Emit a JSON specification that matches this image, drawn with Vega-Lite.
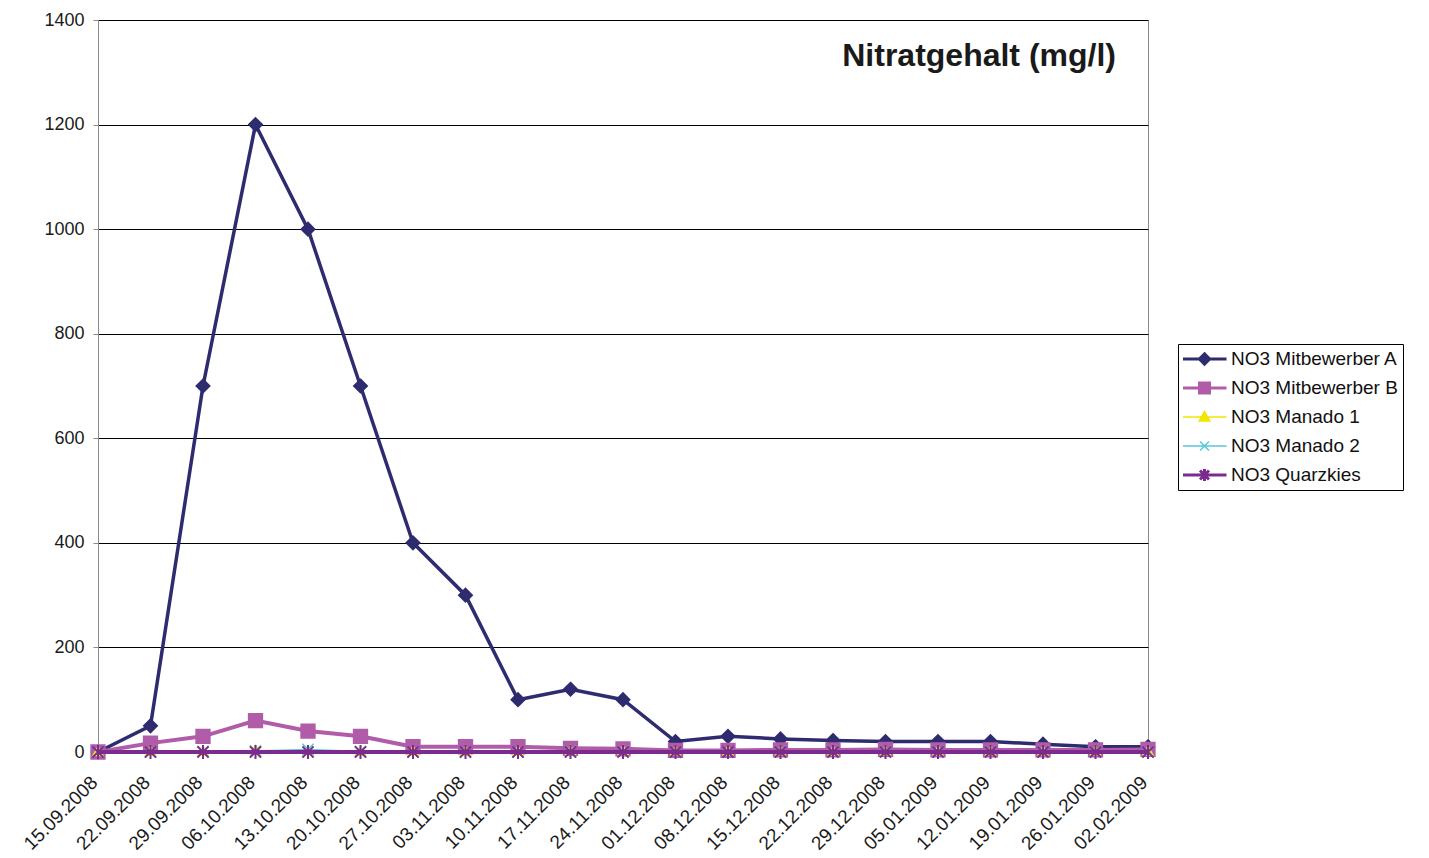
{
  "$schema": "https://vega.github.io/schema/vega-lite/v6.json",
  "width": 1050,
  "height": 732,
  "autosize": {"type": "none"},
  "padding": {"left": 98, "top": 20, "right": 281, "bottom": 106},
  "background": "white",
  "config": {
    "view": {"stroke": "#8a8a8a", "strokeWidth": 1},
    "font": "Liberation Sans"
  },
  "title": {
    "text": "Nitratgehalt (mg/l)",
    "anchor": "end",
    "frame": "group",
    "orient": "top",
    "offset": -87,
    "dx": -32,
    "fontSize": 32,
    "fontWeight": "bold",
    "font": "Liberation Sans",
    "color": "#1a1a1a",
    "baseline": "alphabetic"
  },
  "data": {
    "values": [
      {"Datum": "15.09.2008", "NO3 Mitbewerber A": 0, "NO3 Mitbewerber B": 0, "NO3 Manado 1": 0, "NO3 Manado 2": 0, "NO3 Quarzkies": 0},
      {"Datum": "22.09.2008", "NO3 Mitbewerber A": 50, "NO3 Mitbewerber B": 17, "NO3 Manado 1": 1, "NO3 Manado 2": 0, "NO3 Quarzkies": 0},
      {"Datum": "29.09.2008", "NO3 Mitbewerber A": 700, "NO3 Mitbewerber B": 30, "NO3 Manado 1": 1, "NO3 Manado 2": 1, "NO3 Quarzkies": 0},
      {"Datum": "06.10.2008", "NO3 Mitbewerber A": 1200, "NO3 Mitbewerber B": 60, "NO3 Manado 1": 3, "NO3 Manado 2": 2, "NO3 Quarzkies": 0},
      {"Datum": "13.10.2008", "NO3 Mitbewerber A": 1000, "NO3 Mitbewerber B": 40, "NO3 Manado 1": 2, "NO3 Manado 2": 5, "NO3 Quarzkies": 0},
      {"Datum": "20.10.2008", "NO3 Mitbewerber A": 700, "NO3 Mitbewerber B": 30, "NO3 Manado 1": 1, "NO3 Manado 2": 1, "NO3 Quarzkies": 0},
      {"Datum": "27.10.2008", "NO3 Mitbewerber A": 400, "NO3 Mitbewerber B": 10, "NO3 Manado 1": 1, "NO3 Manado 2": 0, "NO3 Quarzkies": 0},
      {"Datum": "03.11.2008", "NO3 Mitbewerber A": 300, "NO3 Mitbewerber B": 10, "NO3 Manado 1": 1, "NO3 Manado 2": 0, "NO3 Quarzkies": 0},
      {"Datum": "10.11.2008", "NO3 Mitbewerber A": 100, "NO3 Mitbewerber B": 10, "NO3 Manado 1": 1, "NO3 Manado 2": 0, "NO3 Quarzkies": 0},
      {"Datum": "17.11.2008", "NO3 Mitbewerber A": 120, "NO3 Mitbewerber B": 7, "NO3 Manado 1": 2, "NO3 Manado 2": 1, "NO3 Quarzkies": 0},
      {"Datum": "24.11.2008", "NO3 Mitbewerber A": 100, "NO3 Mitbewerber B": 6, "NO3 Manado 1": 2, "NO3 Manado 2": 1, "NO3 Quarzkies": 0},
      {"Datum": "01.12.2008", "NO3 Mitbewerber A": 20, "NO3 Mitbewerber B": 3, "NO3 Manado 1": 1, "NO3 Manado 2": 0, "NO3 Quarzkies": 0},
      {"Datum": "08.12.2008", "NO3 Mitbewerber A": 30, "NO3 Mitbewerber B": 3, "NO3 Manado 1": 1, "NO3 Manado 2": 0, "NO3 Quarzkies": 0},
      {"Datum": "15.12.2008", "NO3 Mitbewerber A": 25, "NO3 Mitbewerber B": 4, "NO3 Manado 1": 1, "NO3 Manado 2": 1, "NO3 Quarzkies": 0},
      {"Datum": "22.12.2008", "NO3 Mitbewerber A": 22, "NO3 Mitbewerber B": 4, "NO3 Manado 1": 1, "NO3 Manado 2": 1, "NO3 Quarzkies": 0},
      {"Datum": "29.12.2008", "NO3 Mitbewerber A": 20, "NO3 Mitbewerber B": 5, "NO3 Manado 1": 1, "NO3 Manado 2": 1, "NO3 Quarzkies": 0},
      {"Datum": "05.01.2009", "NO3 Mitbewerber A": 20, "NO3 Mitbewerber B": 4, "NO3 Manado 1": 1, "NO3 Manado 2": 1, "NO3 Quarzkies": 0},
      {"Datum": "12.01.2009", "NO3 Mitbewerber A": 20, "NO3 Mitbewerber B": 4, "NO3 Manado 1": 1, "NO3 Manado 2": 1, "NO3 Quarzkies": 0},
      {"Datum": "19.01.2009", "NO3 Mitbewerber A": 15, "NO3 Mitbewerber B": 4, "NO3 Manado 1": 1, "NO3 Manado 2": 1, "NO3 Quarzkies": 0},
      {"Datum": "26.01.2009", "NO3 Mitbewerber A": 10, "NO3 Mitbewerber B": 4, "NO3 Manado 1": 1, "NO3 Manado 2": 1, "NO3 Quarzkies": 0},
      {"Datum": "02.02.2009", "NO3 Mitbewerber A": 10, "NO3 Mitbewerber B": 5, "NO3 Manado 1": 1, "NO3 Manado 2": 1, "NO3 Quarzkies": 0}
    ]
  },
  "transform": [
    {"fold": ["NO3 Mitbewerber A", "NO3 Mitbewerber B", "NO3 Manado 1", "NO3 Manado 2", "NO3 Quarzkies"], "as": ["Serie", "Wert"]}
  ],
  "encoding": {
    "x": {
      "field": "Datum",
      "type": "ordinal",
      "sort": null,
      "scale": {"type": "point", "padding": 0},
      "axis": {
        "title": null,
        "grid": false,
        "ticks": false,
        "labelAngle": -45,
        "labelAlign": "right",
        "labelBaseline": "middle",
        "labelPadding": 27,
        "labelOffset": -4,
        "labelFontSize": 19,
        "labelFont": "Liberation Sans",
        "labelColor": "#1a1a1a",
        "labelOverlap": false,
        "labelFlush": false,
        "labelBound": false,
        "domainColor": "#8a8a8a"
      }
    },
    "y": {
      "field": "Wert",
      "type": "quantitative",
      "scale": {"domain": [0, 1400], "nice": false},
      "axis": {
        "title": null,
        "values": [0, 200, 400, 600, 800, 1000, 1200, 1400],
        "format": "d",
        "grid": true,
        "gridColor": "#000000",
        "gridWidth": 1,
        "gridOpacity": 1,
        "domainColor": "#8a8a8a",
        "tickColor": "#8a8a8a",
        "tickSize": 5,
        "labelPadding": 9,
        "labelFontSize": 18,
        "labelFont": "Liberation Sans",
        "labelColor": "#1a1a1a",
        "labelFlush": false
      }
    },
    "color": {
      "field": "Serie",
      "type": "nominal",
      "scale": {
        "domain": ["NO3 Mitbewerber A", "NO3 Mitbewerber B", "NO3 Manado 1", "NO3 Manado 2", "NO3 Quarzkies"],
        "range": ["#2e2b6f", "#b05ca8", "#f2e600", "#5bc6d6", "#7b2b8e"]
      },
      "legend": {
        "title": null,
        "orient": "none",
        "legendX": 1080,
        "legendY": 324,
        "strokeColor": "#000000",
        "fillColor": "white",
        "padding": 5,
        "labelFont": "Liberation Sans",
        "labelFontSize": 19,
        "labelColor": "#111111",
        "labelLimit": 400,
        "symbolSize": 144,
        "labelOffset": 29,
        "rowPadding": 9,
        "clipHeight": 20,
        "symbolStrokeWidth": 3,
        "encode": {
          "symbols": {
            "update": {
              "shape": {"signal": "datum.value === 'NO3 Mitbewerber A' ? 'M-1.67,0H5.67M2,-0.85L2.85,0L2,0.85L1.15,0Z' : datum.value === 'NO3 Mitbewerber B' ? 'M-1.67,0H5.67M1.17,-0.83H2.83V0.83H1.17Z' : datum.value === 'NO3 Manado 1' ? 'M-1.67,0H5.67M2,-0.9L2.9,0.65H1.1Z' : datum.value === 'NO3 Manado 2' ? 'M-1.67,0H5.67M1.25,-0.75L2.75,0.75M1.25,0.75L2.75,-0.75' : 'M-1.67,0H5.67M1.25,-0.75L2.75,0.75M1.25,0.75L2.75,-0.75M2,-1V1'"},
              "fill": {"signal": "scale('color', datum.value)"},
              "stroke": {"signal": "scale('color', datum.value)"},
              "strokeWidth": {"signal": "(datum.value === 'NO3 Manado 1' || datum.value === 'NO3 Manado 2') ? 1.5 : 3"},
              "opacity": {"value": 1}
            }
          }
        }
      }
    }
  },
  "layer": [
    {
      "transform": [{"filter": "datum.Serie === 'NO3 Mitbewerber A'"}],
      "mark": {"type": "line", "strokeWidth": 3.5},
      "encoding": {}
    },
    {
      "transform": [{"filter": "datum.Serie === 'NO3 Mitbewerber B'"}],
      "mark": {"type": "line", "strokeWidth": 4},
      "encoding": {}
    },
    {
      "transform": [{"filter": "datum.Serie === 'NO3 Manado 1' || datum.Serie === 'NO3 Manado 2'"}],
      "mark": {"type": "line", "strokeWidth": 1.5},
      "encoding": {}
    },
    {
      "transform": [{"filter": "datum.Serie === 'NO3 Mitbewerber A'"}],
      "mark": {"type": "point", "filled": true, "size": 196, "shape": "M0,-0.92L0.92,0L0,0.92L-0.92,0Z", "stroke": "#2e2b6f", "strokeWidth": 2, "opacity": 1}
    },
    {
      "transform": [{"filter": "datum.Serie === 'NO3 Mitbewerber B'"}],
      "mark": {"type": "point", "filled": true, "size": 196, "shape": "M-0.95,-0.95H0.95V0.95H-0.95Z", "stroke": "#b05ca8", "strokeWidth": 2, "opacity": 1}
    },
    {
      "transform": [{"filter": "datum.Serie === 'NO3 Manado 1'"}],
      "mark": {"type": "point", "filled": true, "size": 196, "shape": "M0,-0.75L0.7,0.5H-0.7Z", "stroke": "#f2e600", "strokeWidth": 1.5, "opacity": 1}
    },
    {
      "transform": [{"filter": "datum.Serie === 'NO3 Manado 2'"}],
      "mark": {"type": "point", "filled": true, "size": 196, "shape": "M-0.8,-0.8L0.8,0.8M-0.8,0.8L0.8,-0.8", "stroke": "#5bc6d6", "strokeWidth": 1.5, "opacity": 1}
    },
    {
      "transform": [{"filter": "datum.Serie === 'NO3 Quarzkies'"}],
      "mark": {"type": "line", "strokeWidth": 4},
      "encoding": {}
    },
    {
      "transform": [{"filter": "datum.Serie === 'NO3 Quarzkies'"}],
      "mark": {"type": "point", "filled": true, "size": 196, "shape": "M-0.8,-0.8L0.8,0.8M-0.8,0.8L0.8,-0.8M0,-1V1", "stroke": "#7b2b8e", "strokeWidth": 2, "opacity": 1}
    }
  ]
}
